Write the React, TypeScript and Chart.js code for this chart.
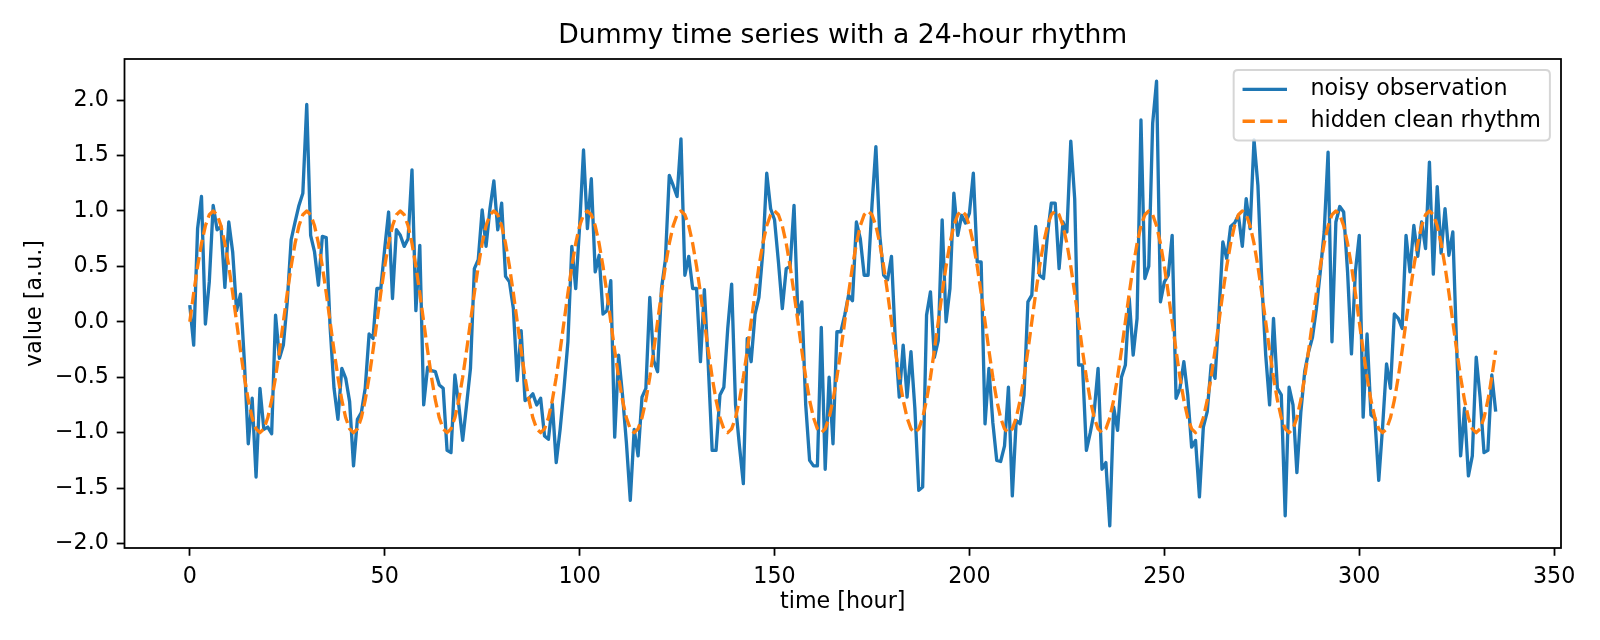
import React, { useEffect, useRef } from "react";
import { Chart, registerables } from "chart.js";

Chart.register(...registerables);

const TITLE = "Dummy time series with a 24-hour rhythm";
const X_LABEL = "time [hour]";
const Y_LABEL = "value [a.u.]";
const NOISY_LABEL = "noisy observation";
const CLEAN_LABEL = "hidden clean rhythm";

const X_TICKS = [0, 50, 100, 150, 200, 250, 300, 350];
const Y_TICKS = [-2.0, -1.5, -1.0, -0.5, 0.0, 0.5, 1.0, 1.5, 2.0];

// noisy observation, one value per hour (t = 0 .. 335)
const noisy = [
  0.15, -0.21, 0.84, 1.13, -0.02, 0.36, 1.05, 0.83, 0.86, 0.31, 0.90, 0.63,
  0.10, 0.25, -0.36, -1.10, -0.69, -1.40, -0.60, -0.97, -0.95, -1.01, 0.06, -0.33,
  -0.21, 0.18, 0.74, 0.90, 1.05, 1.16, 1.96, 0.78, 0.63, 0.33, 0.77, 0.76,
  -0.05, -0.60, -0.88, -0.42, -0.51, -0.72, -1.30, -0.88, -0.82, -0.60, -0.11, -0.15,
  0.30, 0.30, 0.66, 0.99, 0.21, 0.83, 0.78, 0.68, 0.75, 1.37, 0.10, 0.69,
  -0.75, -0.41, -0.44, -0.45, -0.57, -0.60, -1.16, -1.18, -0.48, -0.75, -1.07, -0.75,
  -0.42, 0.48, 0.56, 1.01, 0.68, 1.02, 1.27, 0.83, 1.07, 0.41, 0.36, 0.12,
  -0.53, -0.08, -0.71, -0.69, -0.65, -0.75, -0.69, -1.03, -1.06, -0.74, -1.27, -0.97,
  -0.60, -0.18, 0.68, 0.30, 0.86, 1.55, 0.84, 1.29, 0.45, 0.60, 0.07, 0.10,
  0.37, -1.04, -0.30, -0.66, -1.09, -1.61, -0.97, -1.21, -0.68, -0.60, 0.22, -0.35,
  -0.45, 0.30, 0.56, 1.32, 1.23, 1.13, 1.65, 0.42, 0.59, 0.30, 0.30, -0.36,
  0.29, -0.39, -1.16, -1.16, -0.66, -0.59, -0.06, 0.34, -0.75, -1.12, -1.46, -0.15,
  -0.36, 0.07, 0.22, 0.63, 1.34, 1.02, 0.92, 0.54, 0.12, 0.48, 0.50, 1.05,
  0.06, 0.18, -0.75, -1.25, -1.30, -1.30, -0.05, -1.33, -0.50, -1.10, -0.09, -0.09,
  0.06, 0.24, 0.19, 0.90, 0.75, 0.42, 0.42, 1.05, 1.58, 0.78, 0.42, 0.38,
  0.59, -0.18, -0.68, -0.21, -0.68, -0.27, -0.78, -1.52, -1.49, 0.06, 0.27, -0.32,
  -0.17, 0.92, 0.00, 0.30, 1.16, 0.78, 0.96, 0.89, 0.98, 1.34, 0.54, 0.54,
  -0.92, -0.42, -0.91, -1.25, -1.26, -1.12, -0.59, -1.57, -0.89, -0.92, -0.66, 0.18,
  0.24, 0.86, 0.42, 0.39, 0.78, 1.07, 1.07, 0.48, 0.90, 0.81, 1.63, 1.11,
  -0.39, -0.39, -1.16, -1.00, -0.81, -0.42, -1.33, -1.27, -1.84, -0.77, -0.98, -0.50,
  -0.39, 0.21, -0.30, 0.03, 1.82, 0.39, 0.50, 1.79, 2.17, 0.18, 0.36, 0.42,
  0.78, -0.69, -0.60, -0.36, -0.66, -1.13, -1.07, -1.58, -0.95, -0.81, -0.39, -0.51,
  0.06, 0.72, 0.57, 0.86, 0.89, 0.96, 0.68, 1.11, 0.84, 1.64, 1.23, 0.36,
  -0.30, -0.75, 0.03, -0.60, -0.66, -1.75, -0.59, -0.75, -1.36, -0.82, -0.45, -0.27,
  -0.14, 0.12, 0.45, 0.81, 1.53, -0.18, 0.90, 1.04, 0.99, 0.45, -0.29, 0.45,
  0.78, -0.86, -0.11, -0.84, -0.87, -1.43, -0.94, -0.38, -0.60, 0.07, 0.03, -0.06,
  0.78, 0.45, 0.87, 0.59, 0.90, 0.66, 1.44, 0.43, 1.22, 0.62, 1.02, 0.60,
  0.81, -0.25, -1.21, -0.78, -1.39, -1.21, -0.32, -0.68, -1.18, -1.16, -0.48, -0.81,
];

// hidden clean rhythm, one value per hour (t = 0 .. 335), one row per day
const clean = [
  0, 0.259, 0.5, 0.707, 0.866, 0.966, 1, 0.966, 0.866, 0.707, 0.5, 0.259, 0, -0.259, -0.5, -0.707, -0.866, -0.966, -1, -0.966, -0.866, -0.707, -0.5, -0.259,
  0, 0.259, 0.5, 0.707, 0.866, 0.966, 1, 0.966, 0.866, 0.707, 0.5, 0.259, 0, -0.259, -0.5, -0.707, -0.866, -0.966, -1, -0.966, -0.866, -0.707, -0.5, -0.259,
  0, 0.259, 0.5, 0.707, 0.866, 0.966, 1, 0.966, 0.866, 0.707, 0.5, 0.259, 0, -0.259, -0.5, -0.707, -0.866, -0.966, -1, -0.966, -0.866, -0.707, -0.5, -0.259,
  0, 0.259, 0.5, 0.707, 0.866, 0.966, 1, 0.966, 0.866, 0.707, 0.5, 0.259, 0, -0.259, -0.5, -0.707, -0.866, -0.966, -1, -0.966, -0.866, -0.707, -0.5, -0.259,
  0, 0.259, 0.5, 0.707, 0.866, 0.966, 1, 0.966, 0.866, 0.707, 0.5, 0.259, 0, -0.259, -0.5, -0.707, -0.866, -0.966, -1, -0.966, -0.866, -0.707, -0.5, -0.259,
  0, 0.259, 0.5, 0.707, 0.866, 0.966, 1, 0.966, 0.866, 0.707, 0.5, 0.259, 0, -0.259, -0.5, -0.707, -0.866, -0.966, -1, -0.966, -0.866, -0.707, -0.5, -0.259,
  0, 0.259, 0.5, 0.707, 0.866, 0.966, 1, 0.966, 0.866, 0.707, 0.5, 0.259, 0, -0.259, -0.5, -0.707, -0.866, -0.966, -1, -0.966, -0.866, -0.707, -0.5, -0.259,
  0, 0.259, 0.5, 0.707, 0.866, 0.966, 1, 0.966, 0.866, 0.707, 0.5, 0.259, 0, -0.259, -0.5, -0.707, -0.866, -0.966, -1, -0.966, -0.866, -0.707, -0.5, -0.259,
  0, 0.259, 0.5, 0.707, 0.866, 0.966, 1, 0.966, 0.866, 0.707, 0.5, 0.259, 0, -0.259, -0.5, -0.707, -0.866, -0.966, -1, -0.966, -0.866, -0.707, -0.5, -0.259,
  0, 0.259, 0.5, 0.707, 0.866, 0.966, 1, 0.966, 0.866, 0.707, 0.5, 0.259, 0, -0.259, -0.5, -0.707, -0.866, -0.966, -1, -0.966, -0.866, -0.707, -0.5, -0.259,
  0, 0.259, 0.5, 0.707, 0.866, 0.966, 1, 0.966, 0.866, 0.707, 0.5, 0.259, 0, -0.259, -0.5, -0.707, -0.866, -0.966, -1, -0.966, -0.866, -0.707, -0.5, -0.259,
  0, 0.259, 0.5, 0.707, 0.866, 0.966, 1, 0.966, 0.866, 0.707, 0.5, 0.259, 0, -0.259, -0.5, -0.707, -0.866, -0.966, -1, -0.966, -0.866, -0.707, -0.5, -0.259,
  0, 0.259, 0.5, 0.707, 0.866, 0.966, 1, 0.966, 0.866, 0.707, 0.5, 0.259, 0, -0.259, -0.5, -0.707, -0.866, -0.966, -1, -0.966, -0.866, -0.707, -0.5, -0.259,
  0, 0.259, 0.5, 0.707, 0.866, 0.966, 1, 0.966, 0.866, 0.707, 0.5, 0.259, 0, -0.259, -0.5, -0.707, -0.866, -0.966, -1, -0.966, -0.866, -0.707, -0.5, -0.259,
];

const FONT = '"DejaVu Sans", "Liberation Sans", sans-serif';
const PT = 160 / 72; // pixels per point
const FS = 10 * PT; // tick / label / legend font
const TITLE_FS = 12 * PT;
const BLUE = "#1f77b4";
const ORANGE = "#ff7f0e";
const LW = 1.5 * PT;
const DASH = [3.7 * LW, 1.6 * LW];

const W = 1600;
const H = 640;
const AX_LEFT = 124.5;
const AX_RIGHT = 1561;
const AX_BOTTOM = 548;

const fmtY = (v: number) => (v < 0 ? "\u2212" : "") + Math.abs(v).toFixed(1);

const framePlugin = {
  id: "mplFrame",
  afterDatasetsDraw(chart: any) {
    const { ctx, chartArea } = chart;
    ctx.save();
    ctx.strokeStyle = "#000";
    ctx.lineWidth = 0.8 * PT;
    ctx.strokeRect(chartArea.left, chartArea.top, chartArea.right - chartArea.left, chartArea.bottom - chartArea.top);
    ctx.restore();
  },
};

const legendPlugin = {
  id: "mplLegend",
  afterDraw(chart: any) {
    const { ctx, chartArea } = chart;
    const entries = [
      { label: NOISY_LABEL, color: BLUE, dash: [] as number[] },
      { label: CLEAN_LABEL, color: ORANGE, dash: DASH },
    ];
    ctx.save();
    ctx.font = `${FS}px ${FONT}`;
    const tw = Math.max(...entries.map((e) => ctx.measureText(e.label).width));
    const pad = 0.4 * FS;
    const hl = 2 * FS;
    const htp = 23.5;
    const ls = 0.5 * FS;
    const rowH = 0.935 * FS;
    const gap = 0.5 * FS;
    const bw = pad + hl + htp + tw + pad;
    const bh = 2 * pad + entries.length * rowH + (entries.length - 1) * ls;
    const right = chartArea.right - gap;
    const top = chartArea.top + gap;
    const left = right - bw;
    const r = 0.2 * FS;
    ctx.beginPath();
    ctx.moveTo(left + r, top);
    ctx.lineTo(right - r, top);
    ctx.quadraticCurveTo(right, top, right, top + r);
    ctx.lineTo(right, top + bh - r);
    ctx.quadraticCurveTo(right, top + bh, right - r, top + bh);
    ctx.lineTo(left + r, top + bh);
    ctx.quadraticCurveTo(left, top + bh, left, top + bh - r);
    ctx.lineTo(left, top + r);
    ctx.quadraticCurveTo(left, top, left + r, top);
    ctx.closePath();
    ctx.fillStyle = "rgba(255,255,255,0.8)";
    ctx.fill();
    ctx.strokeStyle = "rgba(204,204,204,0.8)";
    ctx.lineWidth = 2;
    ctx.stroke();
    entries.forEach((e, i) => {
      const cy = top + pad + rowH / 2 + i * (rowH + ls);
      ctx.beginPath();
      ctx.setLineDash(e.dash);
      ctx.strokeStyle = e.color;
      ctx.lineWidth = LW;
      ctx.lineCap = "butt";
      ctx.moveTo(left + pad, cy);
      ctx.lineTo(left + pad + hl, cy);
      ctx.stroke();
      ctx.setLineDash([]);
      ctx.fillStyle = "#000";
      ctx.textAlign = "left";
      ctx.textBaseline = "middle";
      ctx.fillText(e.label, left + pad + hl + htp, cy);
    });
    ctx.restore();
  },
};

export default function App() {
  const ref = useRef<HTMLCanvasElement>(null);

  useEffect(() => {
    const canvas = ref.current;
    if (!canvas) return;
    const n = noisy.length;
    const xMin = 0 - 0.05 * (n - 1);
    const xMax = n - 1 + 0.05 * (n - 1);
    const lo = Math.min(...noisy, ...clean);
    const hi = Math.max(...noisy, ...clean);
    const yMin = lo - 0.05 * (hi - lo);
    const yMax = hi + 0.05 * (hi - lo);

    const tickFont = { family: FONT, size: FS };
    const grid = {
      display: true,
      drawOnChartArea: false,
      drawTicks: true,
      tickLength: 3.5 * PT,
      tickWidth: 0.8 * PT,
      tickColor: "#000",
    };

    const chart = new Chart(canvas, {
      type: "line",
      data: {
        datasets: [
          {
            label: CLEAN_LABEL,
            data: clean.map((y, i) => ({ x: i, y })),
            borderColor: ORANGE,
            backgroundColor: ORANGE,
            borderWidth: LW,
            borderDash: DASH,
            borderCapStyle: "butt",
            borderJoinStyle: "round",
            pointRadius: 0,
            tension: 0,
            fill: false,
            order: 0,
          },
          {
            label: NOISY_LABEL,
            data: noisy.map((y, i) => ({ x: i, y })),
            borderColor: BLUE,
            backgroundColor: BLUE,
            borderWidth: LW,
            borderCapStyle: "butt",
            borderJoinStyle: "round",
            pointRadius: 0,
            tension: 0,
            fill: false,
            order: 1,
          },
        ],
      },
      options: {
        animation: false,
        responsive: false,
        devicePixelRatio: 1,
        events: [],
        layout: { padding: { left: 0, right: W - AX_RIGHT, top: 0, bottom: 0 } },
        plugins: {
          legend: { display: false },
          tooltip: { enabled: false },
          title: {
            display: true,
            fullSize: false,
            text: TITLE,
            color: "#000",
            font: { family: FONT, size: TITLE_FS, weight: "normal" },
            padding: { top: 20.5, bottom: 6.5 },
          },
        },
        scales: {
          x: {
            type: "linear",
            min: xMin,
            max: xMax,
            afterBuildTicks: (s: any) => {
              s.ticks = X_TICKS.map((v) => ({ value: v }));
            },
            afterFit: (s: any) => {
              s.height = H - AX_BOTTOM;
            },
            ticks: {
              color: "#000",
              font: tickFont,
              padding: 3.5 * PT,
              maxRotation: 0,
              autoSkip: false,
              callback: (v: any) => String(v),
            },
            grid,
            border: { display: false },
            title: {
              display: true,
              text: X_LABEL,
              color: "#000",
              font: tickFont,
              padding: { top: 0, bottom: 24 },
            },
          },
          y: {
            type: "linear",
            min: yMin,
            max: yMax,
            afterBuildTicks: (s: any) => {
              s.ticks = Y_TICKS.map((v) => ({ value: v }));
            },
            afterFit: (s: any) => {
              s.width = AX_LEFT;
            },
            ticks: {
              color: "#000",
              font: tickFont,
              padding: 3.5 * PT,
              autoSkip: false,
              callback: (v: any) => fmtY(Number(v)),
            },
            grid,
            border: { display: false },
            title: {
              display: true,
              text: Y_LABEL,
              color: "#000",
              font: tickFont,
              padding: { top: 21.7, bottom: 0 },
            },
          },
        },
      },
      plugins: [framePlugin, legendPlugin],
    } as any);

    return () => chart.destroy();
  }, []);

  return (
    <div style={{ position: "absolute", left: 0, top: 0, width: W, height: H, background: "#fff" }}>
      <canvas ref={ref} width={W} height={H} style={{ display: "block", width: W, height: H }} />
    </div>
  );
}
